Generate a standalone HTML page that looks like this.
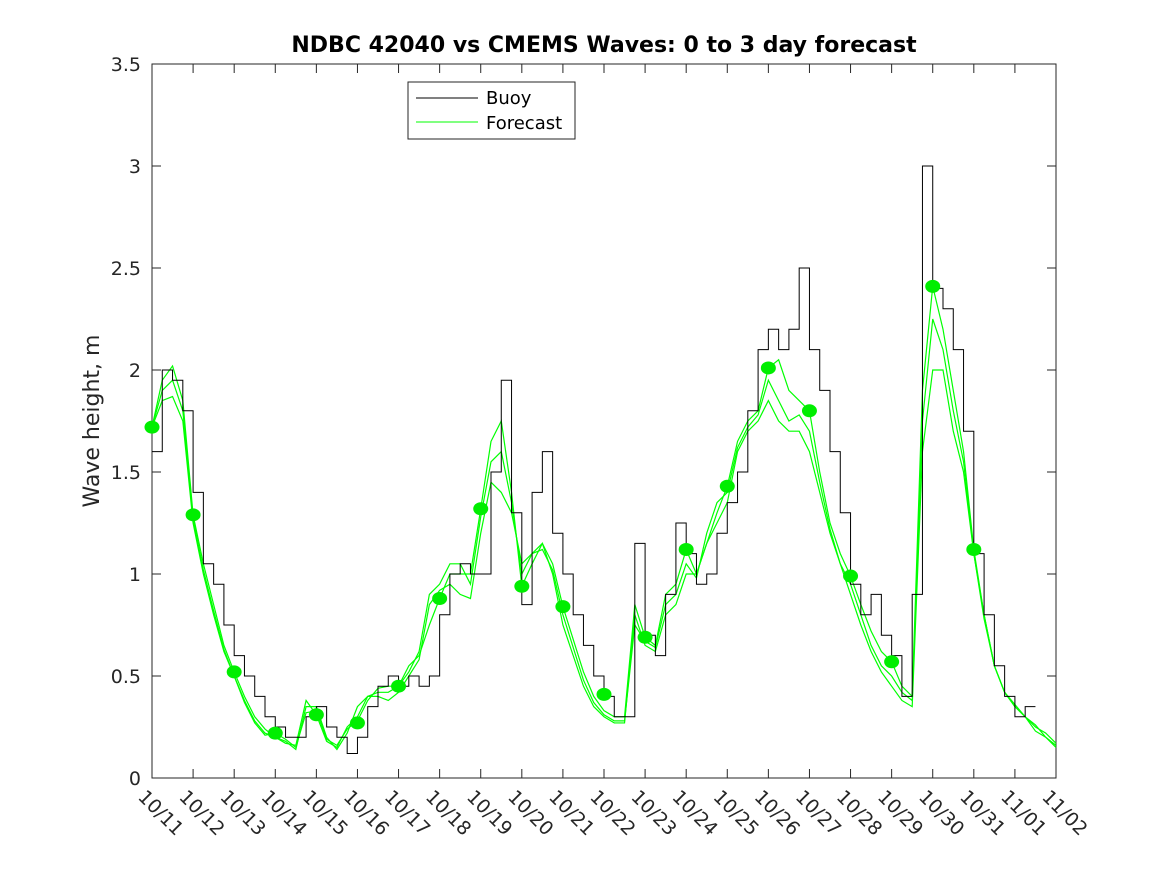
<!DOCTYPE html>
<html><head><meta charset="utf-8"><style>
body{margin:0;background:#fff;}
svg{display:block;font-family:"DejaVu Sans","Liberation Sans",sans-serif;}
</style></head><body>
<svg id="chart" width="1167" height="875">
<rect width="1167" height="875" fill="#fff"/>
</svg>
<script>
const dayLabels=["10/11","10/12","10/13","10/14","10/15","10/16","10/17","10/18","10/19","10/20","10/21","10/22","10/23","10/24","10/25","10/26","10/27","10/28","10/29","10/30","10/31","11/01","11/02"];
const yTicks=[0,0.5,1,1.5,2,2.5,3,3.5];
const yTickLabels=["0","0.5","1","1.5","2","2.5","3","3.5"];
// buoy, 6-hourly from 10/11 00h
const buoy=[1.6,2.0,1.95,1.8, 1.4,1.05,0.95,0.75, 0.6,0.5,0.4,0.3, 0.25,0.2,0.2,0.3, 0.35,0.25,0.2,0.12, 0.2,0.35,0.45,0.5, 0.45,0.5,0.45,0.5, 0.8,1.0,1.05,1.0, 1.0,1.5,1.95,1.3, 0.85,1.4,1.6,1.2, 1.0,0.8,0.65,0.5, 0.4,0.3,0.3,1.15, 0.7,0.6,0.9,1.25, 1.1,0.95,1.0,1.2, 1.35,1.5,1.8,2.1, 2.2,2.1,2.2,2.5, 2.1,1.9,1.6,1.3, 0.95,0.8,0.9,0.7, 0.6,0.4,0.9,3.0, 2.4,2.3,2.1,1.7, 1.1,0.8,0.55,0.4, 0.3,0.35];
const forecastA=[1.72,1.95,2.02,1.85, 1.29,1.05,0.85,0.65, 0.52,0.4,0.3,0.24, 0.2,0.17,0.16,0.38, 0.31,0.18,0.15,0.25, 0.3,0.4,0.42,0.42, 0.45,0.55,0.6,0.75, 0.88,1.0,1.0,1.0, 1.32,1.65,1.75,1.4, 0.94,1.05,1.15,1.05, 0.84,0.68,0.52,0.4, 0.33,0.3,0.3,0.85, 0.69,0.65,0.9,0.95, 1.12,1.0,1.15,1.3, 1.43,1.65,1.75,1.8, 2.01,2.05,1.9,1.85, 1.8,1.5,1.25,1.1, 0.99,0.85,0.72,0.62, 0.57,0.45,0.4,1.9, 2.41,2.2,1.9,1.6, 1.12,0.8,0.55,0.42, 0.35,0.3,0.25,0.22, 0.17];
const forecastB=[1.72,1.85,1.87,1.75, 1.25,1.0,0.8,0.62, 0.5,0.38,0.28,0.22, 0.2,0.18,0.14,0.35, 0.35,0.2,0.14,0.22, 0.35,0.4,0.4,0.38, 0.42,0.5,0.58,0.85, 0.92,0.95,0.9,0.88, 1.2,1.45,1.4,1.3, 1.05,1.1,1.15,1.0, 0.75,0.6,0.45,0.35, 0.3,0.27,0.27,0.8, 0.65,0.62,0.8,0.85, 1.0,1.0,1.15,1.25, 1.35,1.6,1.7,1.75, 1.85,1.75,1.7,1.7, 1.6,1.4,1.2,1.05, 0.9,0.75,0.62,0.52, 0.45,0.38,0.35,1.6, 2.0,2.0,1.7,1.5, 1.1,0.78,0.55,0.42, 0.36,0.3,0.23,0.2, 0.15];
const forecastC=[1.72,1.9,1.95,1.8, 1.27,1.02,0.82,0.63, 0.5,0.37,0.27,0.21, 0.22,0.19,0.15,0.32, 0.33,0.19,0.16,0.24, 0.28,0.38,0.44,0.45, 0.45,0.52,0.62,0.9, 0.95,1.05,1.05,0.95, 1.28,1.55,1.6,1.35, 1.0,1.1,1.12,1.02, 0.8,0.64,0.48,0.37, 0.31,0.28,0.28,0.75, 0.67,0.64,0.85,0.9, 1.05,0.98,1.2,1.35, 1.4,1.62,1.72,1.78, 1.95,1.85,1.75,1.78, 1.7,1.45,1.22,1.05, 0.95,0.8,0.65,0.55, 0.5,0.42,0.38,1.75, 2.25,2.1,1.8,1.55, 1.1,0.8,0.55,0.42, 0.35,0.3,0.26,0.2, 0.16];
const dotValues=[1.72,1.29,0.52,0.22,0.31,0.27,0.45,0.88,1.32,0.94,0.84,0.41,0.69,1.12,1.43,2.01,1.80,0.99,0.57,2.41,1.12];

const NS="http://www.w3.org/2000/svg";
const svg=document.getElementById('chart');
const L=152,R=1056,T=64,B=778;
const X=d=>L+(R-L)*d/22;
const Y=v=>B-(B-T)*v/3.5;
function mk(tag,attrs,parent){const e=document.createElementNS(NS,tag);for(const k in attrs)e.setAttribute(k,attrs[k]);(parent||svg).appendChild(e);return e;}

const frame=mk('rect',{x:L,y:T,width:R-L,height:B-T,fill:'#fff',stroke:'#262626','stroke-width':1});



yTicks.forEach((v,i)=>{
  const y=Y(v);
  const t1=mk('line',{x1:L,x2:L+9,y1:y,y2:y,stroke:'#262626'});
  
  
  const t2=mk('line',{x1:R,x2:R-9,y1:y,y2:y,stroke:'#262626'});
  
  
  const tx=mk('text',{x:L-11,y:y+7,'text-anchor':'end','font-size':19,fill:'#262626'});
  tx.textContent=yTickLabels[i];
  
  
});
dayLabels.forEach((lab,i)=>{
  const x=X(i);
  const t1=mk('line',{x1:x,x2:x,y1:B,y2:B-9,stroke:'#262626'});
  
  
  const t2=mk('line',{x1:x,x2:x,y1:T,y2:T+9,stroke:'#262626'});
  
  
  const tx=mk('text',{x:0,y:0,'font-size':19,fill:'#262626',transform:`translate(${x-15},${B+20}) rotate(45)`});
  tx.textContent=lab;
  
  
});

function stepPath(arr){let d='';arr.forEach((v,i)=>{const x0=X(i/4),x1=X((i+1)/4);d+=(i?'L':'M')+x0+','+Y(v)+'L'+x1+','+Y(v);});return d;}
function linePath(arr){return arr.map((v,i)=>(i?'L':'M')+X(i/4)+','+Y(v)).join('');}

[forecastA,forecastB,forecastC].forEach((arr,k)=>{
  const p=mk('path',{d:linePath(arr),fill:'none',stroke:'#00ff00','stroke-width':1.2});
  
  
});
const bp=mk('path',{d:stepPath(buoy),fill:'none',stroke:'#000','stroke-width':1});


dotValues.forEach((v,i)=>{
  const c=mk('ellipse',{cx:X(i),cy:Y(v),rx:7.5,ry:6.5,fill:'#00ee00'});
  
  
});

const title=mk('text',{x:604,y:52,'text-anchor':'middle','font-size':22,'font-weight':'bold',fill:'#000'});
title.textContent='NDBC 42040 vs CMEMS Waves: 0 to 3 day forecast';


const yl=mk('text',{x:0,y:0,'text-anchor':'middle','font-size':22,fill:'#262626',transform:'translate(99,421) rotate(-90)'});
yl.textContent='Wave height, m';



const lg=mk('g',{});


mk('rect',{x:408,y:82,width:167,height:57,fill:'#fff',stroke:'#262626'},lg);
const l1=mk('line',{x1:416,x2:478,y1:98,y2:98,stroke:'#000'},lg);


const t1=mk('text',{x:486,y:104,'font-size':18,fill:'#000'},lg);
t1.textContent='Buoy';


const l2=mk('line',{x1:416,x2:478,y1:122,y2:122,stroke:'#00ff00'},lg);


const t2=mk('text',{x:486,y:129,'font-size':18,fill:'#000'},lg);
t2.textContent='Forecast';


</script>
</body></html>
